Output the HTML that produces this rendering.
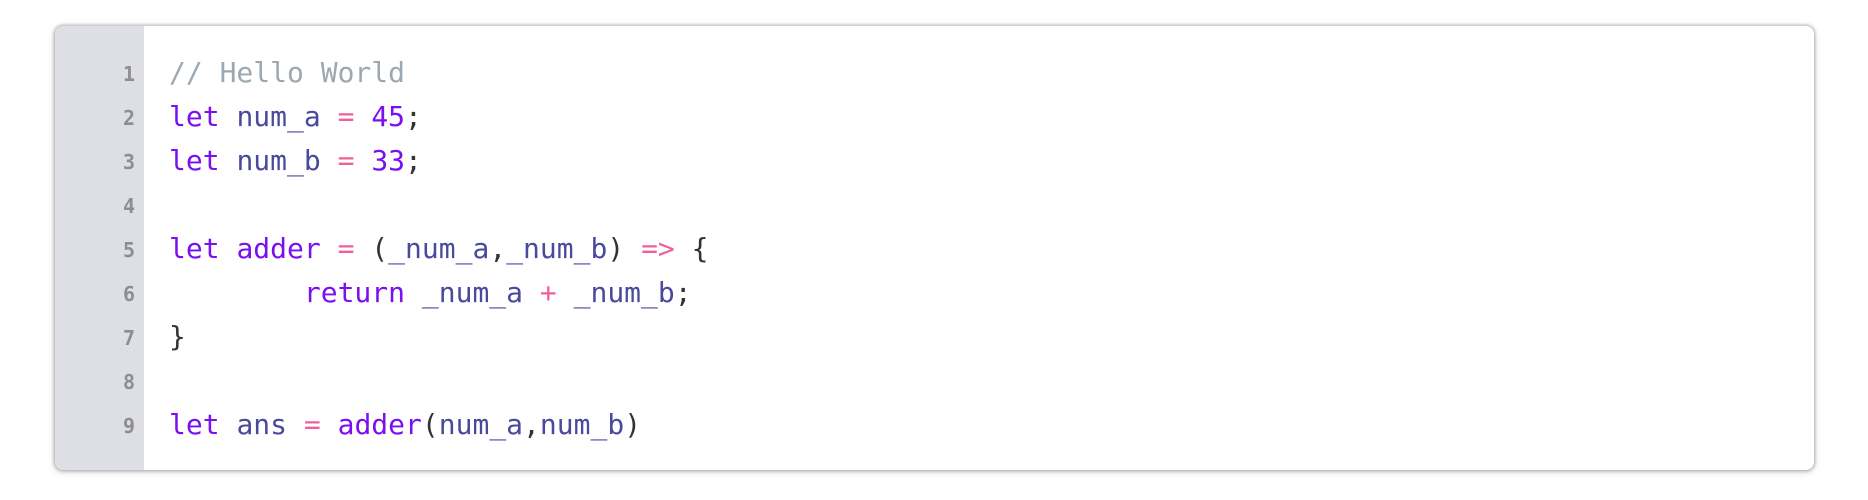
<!DOCTYPE html>
<html><head><meta charset="utf-8"><style>
html,body{margin:0;padding:0;background:#fff;width:1868px;height:500px;overflow:hidden}
.box{position:absolute;left:55px;top:26px;width:1759px;height:444px;border-radius:8px;background:#fff;
box-shadow:0 0 3px 1px rgba(0,0,0,0.28),0 2px 8px rgba(0,0,0,0.15);overflow:hidden}
.gut{position:absolute;left:0;top:0;width:89px;height:100%;background:#dedfe4}
.ln{position:absolute;left:0;width:80px;text-align:right;font:bold 20px "DejaVu Sans Mono",monospace;color:#8e8e8e}
.cd{position:absolute;left:114px;font:28px "DejaVu Sans Mono","Liberation Mono",monospace;color:#333;white-space:pre}
.k{color:#7a10f0}.v{color:#4a4a9c}.o{color:#ef5f98}.c{color:#9ba8b2}
</style></head><body>
<div class="box">
<div class="gut"></div>
<div class="ln" style="top:26px;line-height:44px">1<br>2<br>3<br>4<br>5<br>6<br>7<br>8<br>9</div>
<div class="cd" style="top:25px;line-height:44px"><span class="c">// Hello World</span>
<span class="k">let</span> <span class="v">num_a</span> <span class="o">=</span> <span class="k">45</span>;
<span class="k">let</span> <span class="v">num_b</span> <span class="o">=</span> <span class="k">33</span>;

<span class="k">let</span> <span class="k">adder</span> <span class="o">=</span> (<span class="v">_num_a</span>,<span class="v">_num_b</span>) <span class="o">=&gt;</span> {
        <span class="k">return</span> <span class="v">_num_a</span> <span class="o">+</span> <span class="v">_num_b</span>;
}

<span class="k">let</span> <span class="v">ans</span> <span class="o">=</span> <span class="k">adder</span>(<span class="v">num_a</span>,<span class="v">num_b</span>)</div>
</div>
</body></html>
